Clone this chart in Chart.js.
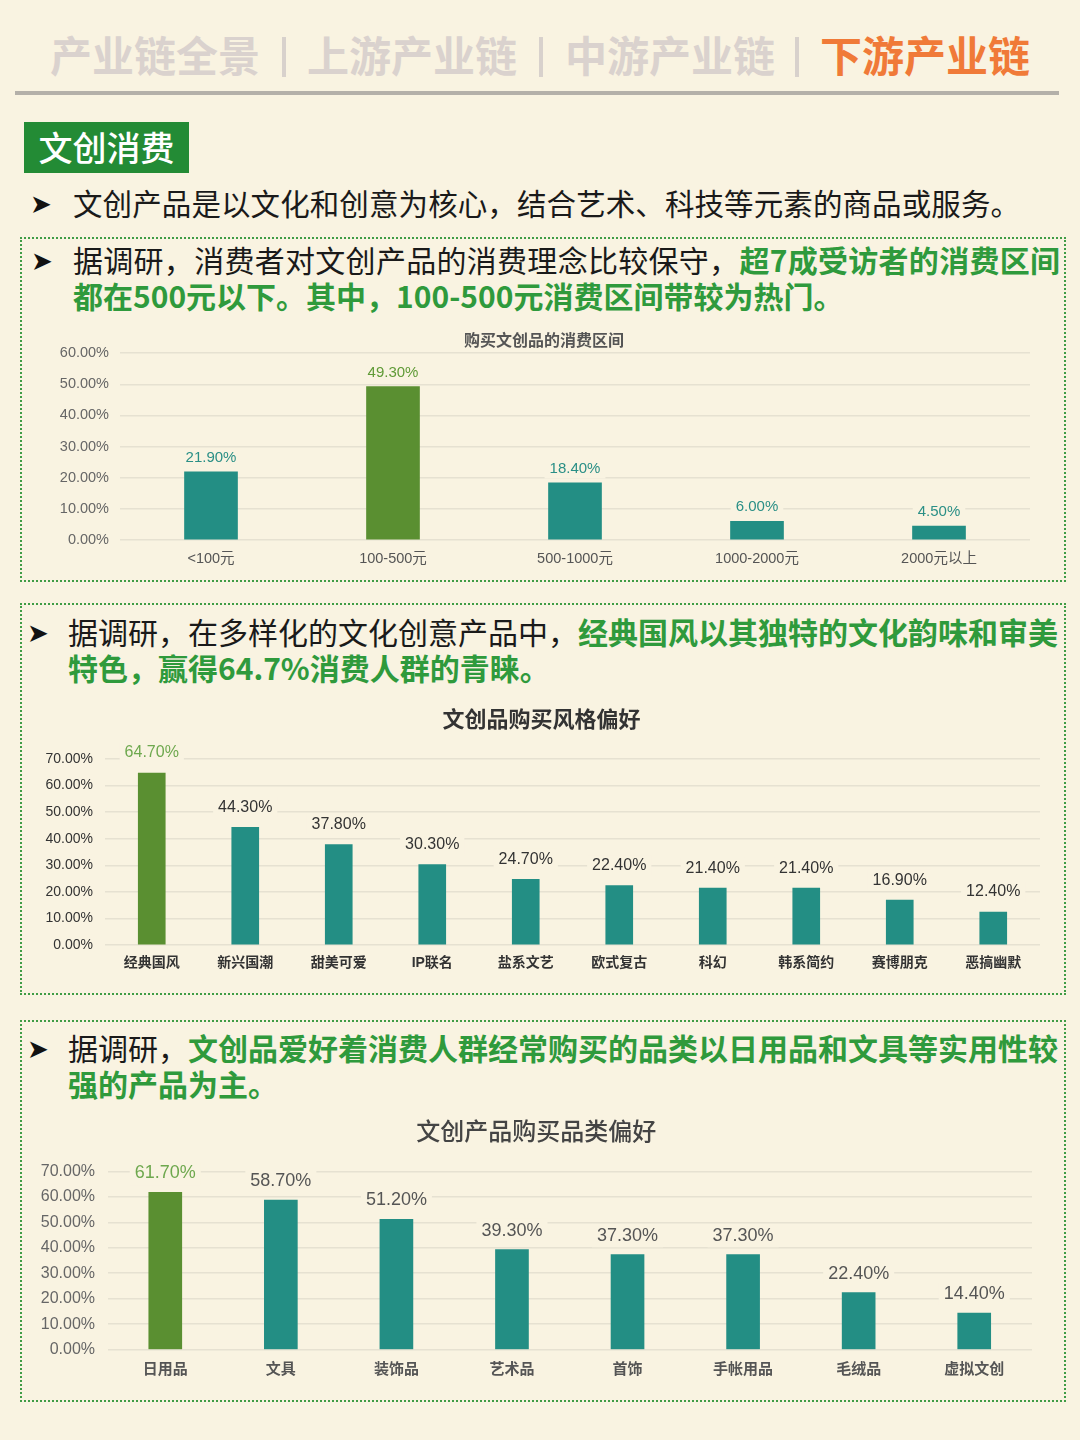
<!DOCTYPE html>
<html><head><meta charset="utf-8">
<script src="https://cdn.jsdelivr.net/npm/chart.js@4.4.1/dist/chart.umd.min.js"></script>
<style>
html,body{margin:0;padding:0;}
body{width:1080px;height:1440px;background:#f9f3e1;position:relative;overflow:hidden;font-family:"Noto Sans CJK SC","Noto Sans",sans-serif;}
.nav{position:absolute;white-space:nowrap;font-size:42px;font-weight:700;line-height:42px;top:33px;color:#dad2ce;}
.sep{position:absolute;top:37px;width:4px;height:40px;background:#d8d1cc;}
.box{position:absolute;left:20px;width:1042px;border:2px dotted #3f9c45;}
.arrow{position:absolute;font-family:"DejaVu Sans";font-size:26px;line-height:36px;color:#111;}
.ln{position:absolute;font-size:30px;line-height:36px;color:#1a1a1a;white-space:nowrap;}
.j{text-align:justify;text-align-last:justify;}
.g{color:#2f9a3c;font-weight:700;}
canvas{position:absolute;}
</style></head>
<body>
<div class="nav" style="left:50px">产业链全景</div>
<div class="sep" style="left:282px"></div>
<div class="nav" style="left:307px">上游产业链</div>
<div class="sep" style="left:539px"></div>
<div class="nav" style="left:565px">中游产业链</div>
<div class="sep" style="left:795px"></div>
<div class="nav" style="left:820px;color:#f07a38">下游产业链</div>
<div style="position:absolute;left:15px;top:91px;width:1044px;height:4px;background:#b4b0a9"></div>

<div style="position:absolute;left:24px;top:122px;width:165px;height:51px;background:#238b35;color:#fff;font-size:34px;line-height:49px;text-align:center;font-weight:500">文创消费</div>
<div class="arrow" style="left:30px;top:186px">➤</div>
<div class="ln j" style="left:73px;top:184px;width:947px;font-size:29.5px">文创产品是以文化和创意为核心，结合艺术、科技等元素的商品或服务。</div>

<div class="box" style="top:237px;height:341px"></div>
<div class="arrow" style="left:31px;top:243px">➤</div>
<div class="ln j" style="left:73px;top:241px;width:987px">据调研，消费者对文创产品的消费理念比较保守，<span class="g">超7成受访者的消费区间</span></div>
<div class="ln g" style="left:73px;top:277px">都在500元以下。其中，100-500元消费区间带较为热门。</div>

<div class="box" style="top:603px;height:388px"></div>
<div class="arrow" style="left:27px;top:615px">➤</div>
<div class="ln j" style="left:68px;top:613px;width:989px">据调研，在多样化的文化创意产品中，<span class="g">经典国风以其独特的文化韵味和审美</span></div>
<div class="ln g" style="left:68px;top:649px">特色，赢得64.7%消费人群的青睐。</div>

<div class="box" style="top:1020px;height:378px"></div>
<div class="arrow" style="left:27px;top:1031px">➤</div>
<div class="ln j" style="left:68px;top:1029px;width:989px">据调研，<span class="g">文创品爱好着消费人群经常购买的品类以日用品和文具等实用性较</span></div>
<div class="ln g" style="left:68px;top:1065px">强的产品为主。</div>

<canvas id="c1" width="1010" height="245" style="left:30px;top:330px"></canvas>
<canvas id="c2" width="1040" height="280" style="left:20px;top:700px"></canvas>
<canvas id="c3" width="1030" height="280" style="left:20px;top:1110px"></canvas>

<script>
// ---- data ----
const spendTitle = '购买文创品的消费区间';
const spendCategories = ['<100元', '100-500元', '500-1000元', '1000-2000元', '2000元以上'];
const spendValues = [21.9, 49.3, 18.4, 6.0, 4.5];
const spendHighlight = 1;

const styleTitle = '文创品购买风格偏好';
const styleCategories = ['经典国风', '新兴国潮', '甜美可爱', 'IP联名', '盐系文艺', '欧式复古', '科幻', '韩系简约', '赛博朋克', '恶搞幽默'];
const styleValues = [64.7, 44.3, 37.8, 30.3, 24.7, 22.4, 21.4, 21.4, 16.9, 12.4];
const styleHighlight = 0;

const itemTitle = '文创产品购买品类偏好';
const itemCategories = ['日用品', '文具', '装饰品', '艺术品', '首饰', '手帐用品', '毛绒品', '虚拟文创'];
const itemValues = [61.7, 58.7, 51.2, 39.3, 37.3, 37.3, 22.4, 14.4];
const itemHighlight = 0;

// ---- styling ----
const BG = '#f9f3e1';
const TEAL = '#238e84';
const GREEN = '#5a8f31';
const GRID = '#e6e1d1';
const LATIN = '"Liberation Sans", "Noto Sans CJK SC", sans-serif';

const valueLabels = {
  id: 'valueLabels',
  afterDatasetsDraw(chart, args, o) {
    const ctx = chart.ctx;
    const meta = chart.getDatasetMeta(0);
    const data = chart.data.datasets[0].data;
    ctx.save();
    ctx.font = (o.weight || 'normal') + ' ' + o.size + 'px ' + LATIN;
    ctx.textAlign = 'center';
    ctx.textBaseline = 'middle';
    meta.data.forEach((bar, i) => {
      const txt = data[i].toFixed(2) + '%';
      const y = bar.y - o.offset;
      const w = ctx.measureText(txt).width;
      ctx.fillStyle = BG;
      ctx.fillRect(bar.x - w / 2 - 5, y - o.size * 0.65, w + 10, o.size * 1.3);
      ctx.fillStyle = i === o.hi ? o.hiColor : o.color;
      ctx.fillText(txt, bar.x, y);
    });
    ctx.restore();
  }
};

function makeChart(id, cfg) {
  const colors = cfg.values.map((v, i) => i === cfg.hi ? GREEN : TEAL);
  return new Chart(document.getElementById(id), {
    type: 'bar',
    data: {
      labels: cfg.labels,
      datasets: [{ data: cfg.values, backgroundColor: colors, barThickness: cfg.barW, borderWidth: 0 }]
    },
    plugins: [valueLabels],
    options: {
      responsive: false,
      animation: false,
      layout: { padding: { left: cfg.pl, right: cfg.pr, top: 0, bottom: 0 } },
      plugins: {
        legend: { display: false },
        tooltip: { enabled: false },
        title: {
          display: true, text: cfg.title, color: cfg.titleColor,
          font: { family: '"Noto Sans CJK SC", sans-serif', size: cfg.titleSize, weight: cfg.titleWeight, lineHeight: 1.2 },
          padding: { top: cfg.titlePadTop, bottom: cfg.titlePadBottom }
        },
        valueLabels: cfg.vl
      },
      scales: {
        x: {
          grid: { display: false, drawTicks: false },
          border: { display: false },
          ticks: { color: cfg.xColor, padding: cfg.xPad, font: { family: LATIN, size: cfg.xSize, weight: cfg.xWeight, lineHeight: 1.2 } },
          afterFit: s => { s.height = cfg.xH; }
        },
        y: {
          min: 0, max: cfg.max,
          grid: { color: GRID, lineWidth: 1.5, drawTicks: false },
          border: { display: false },
          ticks: {
            stepSize: 10, color: cfg.yColor, padding: cfg.yPad,
            font: { family: LATIN, size: cfg.ySize, weight: cfg.yWeight },
            callback: v => v.toFixed(2) + '%'
          },
          afterFit: s => { s.width = cfg.yW; }
        }
      }
    }
  });
}

makeChart('c1', {
  labels: spendCategories, values: spendValues, hi: spendHighlight, max: 60, barW: 53,
  pl: 28, pr: 10, yW: 62, xH: 35,
  title: spendTitle, titleColor: '#555', titleSize: 16, titleWeight: 'bold', titlePadTop: 0, titlePadBottom: 4,
  xColor: '#555', xPad: 10, xSize: 14.5, xWeight: 'normal',
  yColor: '#666', yPad: 11, ySize: 14.5, yWeight: 'normal',
  vl: { size: 15, offset: 14, color: '#2a8f86', hi: spendHighlight, hiColor: '#5f9a36' }
});

makeChart('c2', {
  labels: styleCategories, values: styleValues, hi: styleHighlight, max: 70, barW: 27,
  pl: 23, pr: 20, yW: 62, xH: 35,
  title: styleTitle, titleColor: '#333', titleSize: 22, titleWeight: 'bold', titlePadTop: 5.8, titlePadBottom: 26.8,
  xColor: '#333', xPad: 10, xSize: 14, xWeight: 'bold',
  yColor: '#333', yPad: 12, ySize: 14, yWeight: '500',
  vl: { size: 16, offset: 20, color: '#333', hi: styleHighlight, hiColor: '#6ea84e' }
});

makeChart('c3', {
  labels: itemCategories, values: itemValues, hi: itemHighlight, max: 70, barW: 33,
  pl: 20.5, pr: 18, yW: 67, xH: 40.3,
  title: itemTitle, titleColor: '#444', titleSize: 24, titleWeight: '500', titlePadTop: 6.6, titlePadBottom: 25.9,
  xColor: '#555', xPad: 11.3, xSize: 15, xWeight: 'bold',
  yColor: '#666', yPad: 12.5, ySize: 16, yWeight: 'normal',
  vl: { size: 18, offset: 19, color: '#555', hi: itemHighlight, hiColor: '#6ea84e' }
});
</script>
</body></html>
